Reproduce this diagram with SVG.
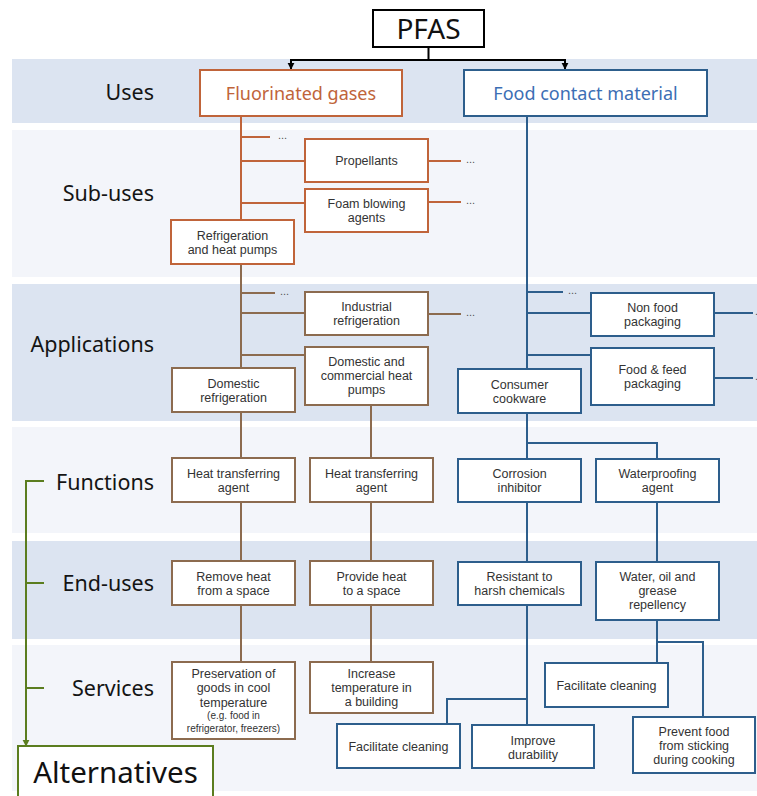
<svg xmlns="http://www.w3.org/2000/svg" width="757" height="796" viewBox="0 0 757 796">
  <defs>
    <style>
      .band-a { fill: #dce4f1; }
      .band-b { fill: #f3f5fa; }
      .row { font-family: "Noto Sans", "Open Sans", sans-serif; font-size: 21.5px; fill: #141414; text-anchor: end; }
      .box { fill: #ffffff; stroke-width: 2; }
      .or { stroke: #c0643a; }
      .br { stroke: #8c6b4f; }
      .bl { stroke: #2d5e8c; }
      .gr { stroke: #5b7d1f; }
      .t { font-family: "Liberation Sans", Arial, sans-serif; font-size: 12.5px; fill: #333333; text-anchor: middle; }
      .ts { font-size: 10px; }
      .dots { font-family: "Liberation Sans", sans-serif; font-size: 11px; fill: #555555; }
      .ln { fill: none; stroke-width: 2; }
    </style>
    <marker id="arrow-black" viewBox="0 0 10 10" refX="9" refY="5" markerWidth="7" markerHeight="8" orient="auto" markerUnits="userSpaceOnUse">
      <path d="M0,0 L10,5 L0,10 Z" fill="#000000"/>
    </marker>
    <marker id="arrow-green" viewBox="0 0 10 10" refX="9" refY="5" markerWidth="7" markerHeight="8" orient="auto" markerUnits="userSpaceOnUse">
      <path d="M0,0 L10,5 L0,10 Z" fill="#5b7d1f"/>
    </marker>
  </defs>

  <rect width="757" height="796" fill="#ffffff"/>

  <!-- level bands -->
  <g id="bands">
    <rect class="band-a" x="12" y="59" width="745" height="64"/>
    <rect class="band-b" x="12" y="130" width="745" height="147"/>
    <rect class="band-a" x="12" y="284" width="745" height="137"/>
    <rect class="band-b" x="12" y="427" width="745" height="106"/>
    <rect class="band-a" x="12" y="541" width="745" height="98"/>
    <rect class="band-b" x="12" y="645" width="745" height="146"/>
  </g>

  <!-- level labels -->
  <g id="row-labels">
    <text class="row" x="154" y="100">Uses</text>
    <text class="row" x="154" y="201">Sub-uses</text>
    <text class="row" x="154" y="352">Applications</text>
    <text class="row" x="154" y="490">Functions</text>
    <text class="row" x="154" y="591">End-uses</text>
    <text class="row" x="154" y="696">Services</text>
  </g>

  <!-- connectors -->
  <g id="connectors">
    <!-- root split -->
    <path class="ln" stroke="#000000" d="M428.5,47 V60 M290,60 H566"/>
    <path class="ln" stroke="#000000" d="M291,60 V69" marker-end="url(#arrow-black)"/>
    <path class="ln" stroke="#000000" d="M565,60 V69" marker-end="url(#arrow-black)"/>

    <!-- fluorinated gases -->
    <path class="ln or" d="M241,116 V220 M241,137 H270 M241,161 H305 M241,203 H305 M428,161 H461 M428,202 H461"/>
    <!-- refrigeration and heat pumps -->
    <path class="ln br" d="M241,264 V368 M241,293 H275 M241,313 H305 M241,355 H305 M428,314 H461"/>
    <path class="ln br" d="M241,412 V458 M241,502 V561 M241,605 V662"/>
    <path class="ln br" d="M371,405 V458 M371,502 V561 M371,605 V662"/>

    <!-- food contact material -->
    <path class="ln bl" d="M527,116 V369 M527,292 H563 M527,313 H591 M527,355 H591 M714,313 H753 M714,378 H753"/>
    <path class="ln bl" d="M527,413 V459 M527,443 H657 V459 M527,502 V562 M657,502 V562"/>
    <path class="ln bl" d="M527,605 V725 M527,699 H447 V724 M657,620 V663 M657,642 H703 V717"/>

    <!-- alternatives bracket -->
    <path class="ln gr" d="M26,481 H44 M26,583 H44 M26,688 H44"/>
    <path class="ln gr" d="M26,480 V746" marker-end="url(#arrow-green)"/>

    <text class="dots" x="278" y="139">...</text>
    <text class="dots" x="466" y="163">...</text>
    <text class="dots" x="466" y="204">...</text>
    <text class="dots" x="280" y="295">...</text>
    <text class="dots" x="466" y="316">...</text>
    <text class="dots" x="568" y="294">...</text>
    <text class="dots" x="755" y="315">...</text>
    <text class="dots" x="755" y="380">...</text>
  </g>

  <!-- nodes -->
  <g id="pfas">
    <rect class="box" stroke="#000000" x="373" y="10" width="111" height="37"/>
    <text x="428.5" y="39" font-family="Noto Sans, Open Sans, sans-serif" font-size="28" fill="#111111" text-anchor="middle">PFAS</text>
  </g>

  <g id="fluorinated-gases">
    <rect class="box or" x="200" y="70" width="202" height="46"/>
    <text x="301" y="99.5" font-family="Noto Sans, Open Sans, sans-serif" font-size="18" fill="#c0643a" text-anchor="middle">Fluorinated gases</text>
  </g>

  <g id="food-contact-material">
    <rect class="box bl" x="464" y="70" width="243" height="46"/>
    <text x="585.5" y="99.5" font-family="Noto Sans, Open Sans, sans-serif" font-size="18" fill="#3c6eb4" text-anchor="middle">Food contact material</text>
  </g>

  <g id="propellants">
    <rect class="box or" x="305" y="139" width="123" height="43"/>
    <text class="t" x="366.5" y="165">Propellants</text>
  </g>

  <g id="foam-blowing-agents">
    <rect class="box or" x="305" y="189" width="123" height="43"/>
    <text class="t" y="208"><tspan x="366.5">Foam blowing</tspan><tspan x="366.5" dy="14">agents</tspan></text>
  </g>

  <g id="refrigeration-heat-pumps">
    <rect class="box or" x="171" y="220" width="123" height="44"/>
    <text class="t" y="239.5"><tspan x="232.5">Refrigeration</tspan><tspan x="232.5" dy="14">and heat pumps</tspan></text>
  </g>

  <g id="industrial-refrigeration">
    <rect class="box br" x="305" y="292" width="123" height="43"/>
    <text class="t" y="311"><tspan x="366.5">Industrial</tspan><tspan x="366.5" dy="14">refrigeration</tspan></text>
  </g>

  <g id="domestic-commercial-heat-pumps">
    <rect class="box br" x="305" y="347" width="123" height="58"/>
    <text class="t" y="366"><tspan x="366.5">Domestic and</tspan><tspan x="366.5" dy="14">commercial heat</tspan><tspan x="366.5" dy="14">pumps</tspan></text>
  </g>

  <g id="domestic-refrigeration">
    <rect class="box br" x="172" y="368" width="123" height="44"/>
    <text class="t" y="387.5"><tspan x="233.5">Domestic</tspan><tspan x="233.5" dy="14">refrigeration</tspan></text>
  </g>

  <g id="heat-transferring-agent-1">
    <rect class="box br" x="172" y="458" width="123" height="44"/>
    <text class="t" y="477.5"><tspan x="233.5">Heat transferring</tspan><tspan x="233.5" dy="14">agent</tspan></text>
  </g>

  <g id="heat-transferring-agent-2">
    <rect class="box br" x="310" y="458" width="123" height="44"/>
    <text class="t" y="477.5"><tspan x="371.5">Heat transferring</tspan><tspan x="371.5" dy="14">agent</tspan></text>
  </g>

  <g id="remove-heat">
    <rect class="box br" x="172" y="561" width="123" height="44"/>
    <text class="t" y="580.5"><tspan x="233.5">Remove heat</tspan><tspan x="233.5" dy="14">from a space</tspan></text>
  </g>

  <g id="provide-heat">
    <rect class="box br" x="310" y="561" width="123" height="44"/>
    <text class="t" y="580.5"><tspan x="371.5">Provide heat</tspan><tspan x="371.5" dy="14">to a space</tspan></text>
  </g>

  <g id="preservation-of-goods">
    <rect class="box br" x="172" y="662" width="123" height="77"/>
    <text class="t" y="677.5"><tspan x="233.5">Preservation of</tspan><tspan x="233.5" dy="14.5">goods in cool</tspan><tspan x="233.5" dy="14.5">temperature</tspan><tspan class="ts" x="233.5" dy="12">(e.g. food in</tspan><tspan class="ts" x="233.5" dy="13">refrigerator, freezers)</tspan></text>
  </g>

  <g id="increase-temperature">
    <rect class="box br" x="310" y="662" width="123" height="51"/>
    <text class="t" y="677.5"><tspan x="371.5">Increase</tspan><tspan x="371.5" dy="14">temperature in</tspan><tspan x="371.5" dy="14.5">a building</tspan></text>
  </g>

  <g id="non-food-packaging">
    <rect class="box bl" x="591" y="293" width="123" height="43"/>
    <text class="t" y="312"><tspan x="652.5">Non food</tspan><tspan x="652.5" dy="14">packaging</tspan></text>
  </g>

  <g id="food-feed-packaging">
    <rect class="box bl" x="591" y="348" width="123" height="57"/>
    <text class="t" y="374"><tspan x="652.5">Food &amp; feed</tspan><tspan x="652.5" dy="14">packaging</tspan></text>
  </g>

  <g id="consumer-cookware">
    <rect class="box bl" x="458" y="369" width="123" height="44"/>
    <text class="t" y="388.5"><tspan x="519.5">Consumer</tspan><tspan x="519.5" dy="14">cookware</tspan></text>
  </g>

  <g id="corrosion-inhibitor">
    <rect class="box bl" x="458" y="459" width="123" height="43"/>
    <text class="t" y="478"><tspan x="519.5">Corrosion</tspan><tspan x="519.5" dy="14">inhibitor</tspan></text>
  </g>

  <g id="waterproofing-agent">
    <rect class="box bl" x="596" y="459" width="123" height="43"/>
    <text class="t" y="478"><tspan x="657.5">Waterproofing</tspan><tspan x="657.5" dy="14">agent</tspan></text>
  </g>

  <g id="resistant-to-harsh-chemicals">
    <rect class="box bl" x="458" y="562" width="123" height="43"/>
    <text class="t" y="581"><tspan x="519.5">Resistant to</tspan><tspan x="519.5" dy="14">harsh chemicals</tspan></text>
  </g>

  <g id="water-oil-grease-repellency">
    <rect class="box bl" x="596" y="562" width="123" height="58"/>
    <text class="t" y="581"><tspan x="657.5">Water, oil and</tspan><tspan x="657.5" dy="14">grease</tspan><tspan x="657.5" dy="14">repellency</tspan></text>
  </g>

  <g id="facilitate-cleaning-1">
    <rect class="box bl" x="337" y="724" width="123" height="44"/>
    <text class="t" x="398.5" y="750.5">Facilitate cleaning</text>
  </g>

  <g id="improve-durability">
    <rect class="box bl" x="472" y="725" width="122" height="43"/>
    <text class="t" y="744.5"><tspan x="533">Improve</tspan><tspan x="533" dy="14">durability</tspan></text>
  </g>

  <g id="facilitate-cleaning-2">
    <rect class="box bl" x="545" y="663" width="123" height="44"/>
    <text class="t" x="606.5" y="689.5">Facilitate cleaning</text>
  </g>

  <g id="prevent-food-sticking">
    <rect class="box bl" x="633" y="717" width="122" height="56"/>
    <text class="t" y="735.5"><tspan x="694">Prevent food</tspan><tspan x="694" dy="14">from sticking</tspan><tspan x="694" dy="14">during cooking</tspan></text>
  </g>

  <g id="alternatives">
    <rect class="box gr" x="18" y="746" width="195" height="62"/>
    <text x="115.5" y="783" font-family="Noto Sans, Open Sans, sans-serif" font-size="29.5" fill="#111111" text-anchor="middle">Alternatives</text>
  </g>
</svg>
